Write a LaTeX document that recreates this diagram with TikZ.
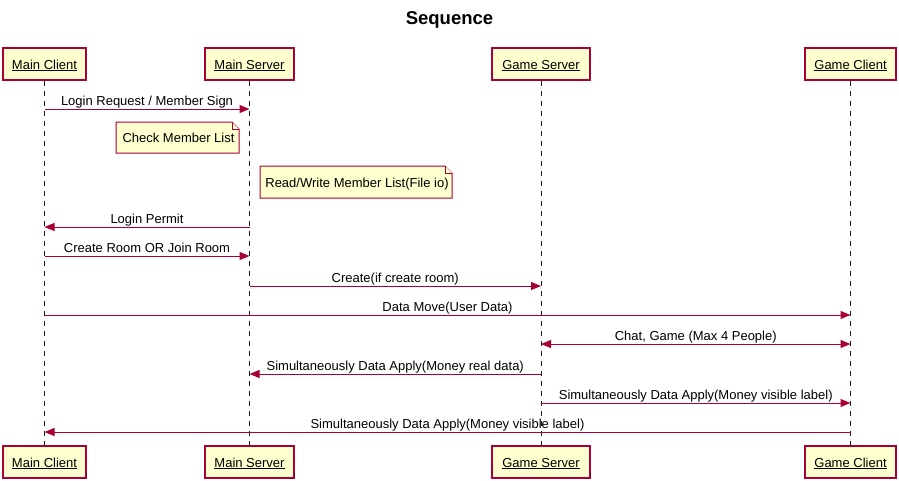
\documentclass[tikz,border=0pt]{standalone}
\usepackage{fontspec}
\setmainfont{Liberation Sans}
\usetikzlibrary{arrows.meta}
\definecolor{pbord}{HTML}{A80036}
\definecolor{pfill}{HTML}{FEFECE}
\tikzset{
  part/.style={draw=pbord, fill=pfill, line width=1.3pt, inner sep=0pt, minimum height=32pt, text height=10pt, text depth=0pt, font=\fontsize{13}{15}\selectfont},
  life/.style={draw=black!90, line width=1pt, dash pattern=on 5pt off 5pt},
  msg/.style={draw=pbord, line width=1pt, -{Triangle[length=10pt,width=8pt]}},
  dmsg/.style={draw=pbord, line width=1pt, {Triangle[length=10pt,width=8pt]}-{Triangle[length=10pt,width=8pt]}},
  lbl/.style={font=\fontsize{13}{15}\selectfont, inner sep=0pt, anchor=base, midway, yshift=4pt},
  notetxt/.style={font=\fontsize{13}{15}\selectfont, inner sep=0pt, text height=9.5pt, text depth=0pt},
  notebox/.style={draw=pbord, fill=pfill, line width=1pt},
}
\begin{document}
\begin{tikzpicture}[x=1pt,y=-1pt]
\useasboundingbox (0,0) rectangle (899,480);
\node[font=\bfseries\fontsize{18.5}{22}\selectfont, inner sep=0pt] (title) at (449.5,20) {Sequence};
% participants top
\node[part, minimum width=83pt] (mcT) at (44.5,64) {\underline{Main Client}};
\node[part, minimum width=89pt] (msT) at (249.5,64) {\underline{Main Server}};
\node[part, minimum width=98pt] (gsT) at (541,64) {\underline{Game Server}};
\node[part, minimum width=91pt] (gcT) at (850.5,64) {\underline{Game Client}};
% participants bottom
\node[part, minimum width=83pt] (mcB) at (44.5,462) {\underline{Main Client}};
\node[part, minimum width=89pt] (msB) at (249.5,462) {\underline{Main Server}};
\node[part, minimum width=98pt] (gsB) at (541,462) {\underline{Game Server}};
\node[part, minimum width=91pt] (gcB) at (850.5,462) {\underline{Game Client}};
% lifelines
\draw[life] (mcT.south) -- (mcB.north);
\draw[life] (msT.south) -- (msB.north);
\draw[life] (gsT.south) -- (gsB.north);
\draw[life] (gcT.south) -- (gcB.north);
% messages
\draw[msg] (mcT.south |- 0,109) -- node[lbl] {Login Request / Member Sign} (msT.south |- 0,109);
% note 1
\draw[notebox] (116,122) -- (232,122) -- (239,129) -- (239,153) -- (116,153) -- cycle;
\draw[notebox] (232,122) -- (232,129) -- (239,129);
\node[notetxt] (n1) at (178.5,138) {Check Member List};
% note 2
\draw[notebox] (260,166) -- (445,166) -- (452,173) -- (452,198) -- (260,198) -- cycle;
\draw[notebox] (445,166) -- (445,173) -- (452,173);
\node[notetxt] (n2) at (357,182.5) {Read/Write Member List(File io)};
\draw[msg] (msT.south |- 0,227) -- node[lbl] {Login Permit} (mcT.south |- 0,227);
\draw[msg] (mcT.south |- 0,256) -- node[lbl] {Create Room OR Join Room} (msT.south |- 0,256);
\draw[msg] (msT.south |- 0,286) -- node[lbl] {Create(if create room)} (gsT.south |- 0,286);
\draw[msg] (mcT.south |- 0,315) -- node[lbl] {Data Move(User Data)} (gcT.south |- 0,315);
\draw[dmsg] (gsT.south |- 0,344) -- node[lbl] {Chat, Game (Max 4 People)} (gcT.south |- 0,344);
\draw[msg] (gsT.south |- 0,374) -- node[lbl] {Simultaneously Data Apply(Money real data)} (msT.south |- 0,374);
\draw[msg] (gsT.south |- 0,403) -- node[lbl] {Simultaneously Data Apply(Money visible label)} (gcT.south |- 0,403);
\draw[msg] (gcT.south |- 0,432) -- node[lbl] {Simultaneously Data Apply(Money visible label)} (mcT.south |- 0,432);
\end{tikzpicture}
\end{document}
